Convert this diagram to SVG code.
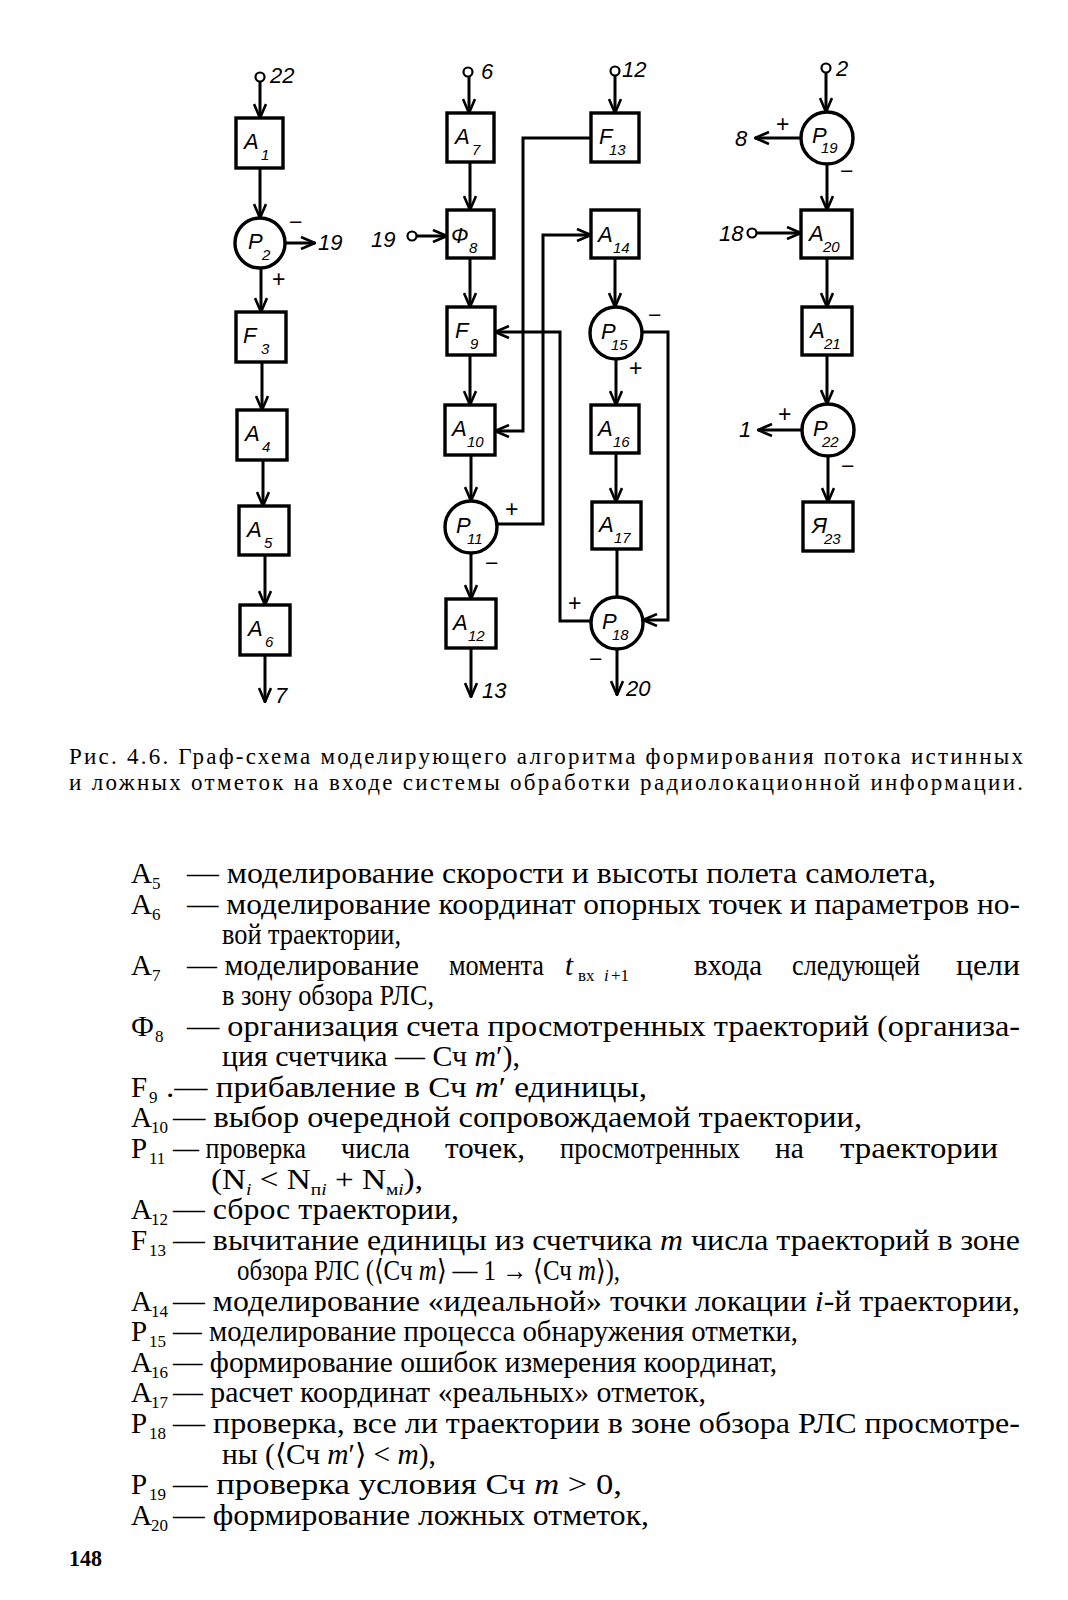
<svg xmlns="http://www.w3.org/2000/svg" width="1068" height="1600" viewBox="0 0 1068 1600">
<style>
.bx{fill:#fff;stroke:#000;stroke-width:3.4}
.c{fill:none;stroke:#000;stroke-width:3}
.a{fill:none;stroke:#000;stroke-width:3;marker-end:url(#ah)}
.t{fill:#fff;stroke:#000;stroke-width:2.2}
.n{font-family:"Liberation Sans","DejaVu Sans",sans-serif;font-style:italic;font-size:22px;fill:#000}
.s{font-family:"Liberation Sans","DejaVu Sans",sans-serif;font-style:italic;font-size:15px;fill:#000}
.l{font-family:"Liberation Sans","DejaVu Sans",sans-serif;font-style:italic;font-size:22px;fill:#000}
.pm{font-family:"Liberation Sans","DejaVu Sans",sans-serif;font-size:23px;fill:#000}
.cap{font-family:"Liberation Serif",serif;font-size:23px;fill:#000}
.b{font-family:"Liberation Serif",serif;font-size:29px;fill:#000}
.bs{font-family:"Liberation Serif",serif;font-size:17px;fill:#000}
.i{font-style:italic}
</style>
<defs>
<marker id="ah" viewBox="0 0 16 14" refX="15" refY="7" markerWidth="16" markerHeight="14" markerUnits="userSpaceOnUse" orient="auto">
<path d="M1,1 L15,7 L1,13" fill="none" stroke="#000" stroke-width="2.6"/>
</marker>
</defs>

<g id="connectors">
<circle class="t" cx="260" cy="77" r="4.5"/>
<line class="a" x1="260" y1="81.5" x2="260" y2="118"/>
<line class="a" x1="260" y1="168" x2="260" y2="218"/>
<line class="a" x1="285" y1="243" x2="315" y2="243"/>
<line class="a" x1="261" y1="268" x2="261" y2="312"/>
<line class="a" x1="262" y1="362" x2="262" y2="410"/>
<line class="a" x1="263" y1="460" x2="263" y2="506"/>
<line class="a" x1="265" y1="555" x2="265" y2="605"/>
<line class="a" x1="265" y1="655" x2="265" y2="702"/>
<circle class="t" cx="468" cy="72" r="4.5"/>
<line class="a" x1="469" y1="76.5" x2="469" y2="113"/>
<line class="a" x1="470" y1="162" x2="470" y2="210"/>
<circle class="t" cx="412" cy="236" r="4.5"/>
<line class="a" x1="416.5" y1="236" x2="447" y2="236"/>
<line class="a" x1="470" y1="258" x2="470" y2="307"/>
<line class="a" x1="470" y1="355" x2="470" y2="405"/>
<line class="a" x1="471" y1="455" x2="471" y2="501"/>
<line class="a" x1="471" y1="553" x2="471" y2="599"/>
<line class="a" x1="471" y1="648" x2="471" y2="697"/>
<polyline class="a" points="497,524 543,524 543,235 591,235"/>
<polyline class="a" points="591,138 523,138 523,431 495,431"/>
<polyline class="a" points="591,621 560,621 560,332 495,332"/>
<circle class="t" cx="615" cy="71" r="4.5"/>
<line class="a" x1="615" y1="75.5" x2="615" y2="113"/>
<line class="a" x1="615" y1="258" x2="615" y2="307"/>
<polyline class="a" points="642,332 668,332 668,620 643,620"/>
<line class="a" x1="616" y1="359" x2="616" y2="405"/>
<line class="a" x1="616" y1="453" x2="616" y2="502"/>
<line class="c" x1="617" y1="549" x2="617" y2="597"/>
<line class="a" x1="617" y1="649" x2="617" y2="695"/>
<circle class="t" cx="826" cy="68" r="4.5"/>
<line class="a" x1="826" y1="72.5" x2="826" y2="112"/>
<line class="a" x1="801" y1="138" x2="755" y2="138"/>
<line class="a" x1="827" y1="164" x2="827" y2="210"/>
<circle class="t" cx="752" cy="233" r="4.5"/>
<line class="a" x1="756.5" y1="233" x2="801" y2="233"/>
<line class="a" x1="827" y1="258" x2="827" y2="307"/>
<line class="a" x1="827" y1="355" x2="827" y2="404"/>
<line class="a" x1="802" y1="430" x2="758" y2="430"/>
<line class="a" x1="828" y1="456" x2="828" y2="502"/>

<text class="l" x="270" y="83">22</text>
<text class="l" x="318" y="250">19</text>
<text class="pm" x="289" y="230">−</text>
<text class="pm" x="272" y="287">+</text>
<text class="l" x="275" y="703">7</text>
<text class="l" x="481" y="79">6</text>
<text class="l" x="371" y="247">19</text>
<text class="l" x="622" y="77">12</text>
<text class="pm" x="505" y="517">+</text>
<text class="pm" x="485" y="571">−</text>
<text class="l" x="482" y="698">13</text>
<text class="pm" x="648" y="323">−</text>
<text class="pm" x="629" y="376">+</text>
<text class="pm" x="568" y="611">+</text>
<text class="pm" x="589" y="667">−</text>
<text class="l" x="626" y="696">20</text>
<text class="l" x="836" y="76">2</text>
<text class="l" x="735" y="146">8</text>
<text class="pm" x="776" y="132">+</text>
<text class="pm" x="840" y="179">−</text>
<text class="l" x="719" y="241">18</text>
<text class="l" x="739" y="437">1</text>
<text class="pm" x="778" y="422">+</text>
<text class="pm" x="841" y="474">−</text>
</g>

<g id="A1"><rect class="bx" x="236" y="118" width="47" height="50"/><text class="n" x="244" y="149">А</text><text class="s" x="261" y="160">1</text></g>
<g id="P2"><circle class="bx" cx="260" cy="243" r="25"/><text class="n" x="248" y="249">Р</text><text class="s" x="262" y="260">2</text></g>
<g id="F3"><rect class="bx" x="236" y="312" width="50" height="50"/><text class="n" x="243" y="343">F</text><text class="s" x="261" y="354">3</text></g>
<g id="A4"><rect class="bx" x="237" y="410" width="50" height="50"/><text class="n" x="245" y="441">А</text><text class="s" x="262" y="452">4</text></g>
<g id="A5"><rect class="bx" x="239" y="506" width="50" height="49"/><text class="n" x="247" y="537">А</text><text class="s" x="264" y="548">5</text></g>
<g id="A6"><rect class="bx" x="240" y="605" width="50" height="50"/><text class="n" x="248" y="636">А</text><text class="s" x="265" y="647">6</text></g>

<g id="A7"><rect class="bx" x="447" y="113" width="47" height="49"/><text class="n" x="455" y="144">А</text><text class="s" x="472" y="155">7</text></g>
<g id="F8"><rect class="bx" x="447" y="210" width="47" height="48"/><text class="n" x="451" y="243">Ф</text><text class="s" x="469" y="253">8</text></g>
<g id="F9"><rect class="bx" x="447" y="307" width="48" height="48"/><text class="n" x="455" y="338">F</text><text class="s" x="470" y="349">9</text></g>
<g id="A10"><rect class="bx" x="445" y="405" width="50" height="50"/><text class="n" x="452" y="436">А</text><text class="s" x="467" y="447">10</text></g>
<g id="P11"><circle class="bx" cx="471" cy="527" r="26"/><text class="n" x="456" y="533">Р</text><text class="s" x="467" y="544">11</text></g>
<g id="A12"><rect class="bx" x="446" y="599" width="50" height="49"/><text class="n" x="453" y="630">А</text><text class="s" x="468" y="641">12</text></g>

<g id="F13"><rect class="bx" x="591" y="113" width="48" height="49"/><text class="n" x="599" y="144">F</text><text class="s" x="609" y="155">13</text></g>
<g id="A14"><rect class="bx" x="591" y="210" width="48" height="48"/><text class="n" x="598" y="242">А</text><text class="s" x="613" y="253">14</text></g>
<g id="P15"><circle class="bx" cx="616" cy="333" r="26"/><text class="n" x="601" y="339">Р</text><text class="s" x="611" y="350">15</text></g>
<g id="A16"><rect class="bx" x="591" y="405" width="48" height="48"/><text class="n" x="598" y="436">А</text><text class="s" x="613" y="447">16</text></g>
<g id="A17"><rect class="bx" x="592" y="502" width="49" height="47"/><text class="n" x="599" y="532">А</text><text class="s" x="614" y="543">17</text></g>
<g id="P18"><circle class="bx" cx="617" cy="623" r="26"/><text class="n" x="602" y="629">Р</text><text class="s" x="612" y="640">18</text></g>

<g id="P19"><circle class="bx" cx="827" cy="138" r="26"/><text class="n" x="812" y="143">Р</text><text class="s" x="821" y="153">19</text></g>
<g id="A20"><rect class="bx" x="801" y="210" width="51" height="48"/><text class="n" x="809" y="241">А</text><text class="s" x="823" y="252">20</text></g>
<g id="A21"><rect class="bx" x="802" y="307" width="50" height="48"/><text class="n" x="810" y="338">А</text><text class="s" x="824" y="349">21</text></g>
<g id="P22"><circle class="bx" cx="828" cy="430" r="26"/><text class="n" x="813" y="436">Р</text><text class="s" x="822" y="447">22</text></g>
<g id="Ya23"><rect class="bx" x="803" y="502" width="50" height="49"/><text class="n" x="812" y="533">Я</text><text class="s" x="824" y="544">23</text></g>

<g id="caption">
<text class="cap" x="69" y="764" textLength="954" lengthAdjust="spacing">Рис. 4.6. Граф-схема моделирующего алгоритма формирования потока истинных</text>
<text class="cap" x="69" y="790" textLength="954" lengthAdjust="spacing">и ложных отметок на входе системы обработки радиолокационной информации.</text>
</g>

<g id="legend">
<text class="b" x="131" y="883">А</text><text class="bs" x="152" y="889">5</text>
<text class="b" x="187" y="883" textLength="749" lengthAdjust="spacingAndGlyphs">— моделирование скорости и высоты полета самолета,</text>

<text class="b" x="131" y="913.6">А</text><text class="bs" x="152" y="919.6">6</text>
<text class="b" x="187" y="913.6" textLength="833" lengthAdjust="spacingAndGlyphs">— моделирование координат опорных точек и параметров но-</text>
<text class="b" x="222" y="944.1" textLength="179" lengthAdjust="spacingAndGlyphs">вой траектории,</text>

<text class="b" x="131" y="974.7">А</text><text class="bs" x="152" y="980.7">7</text>
<text class="b" x="187" y="974.7" textLength="232" lengthAdjust="spacingAndGlyphs">— моделирование</text>
<text class="b" x="449" y="974.7" textLength="95" lengthAdjust="spacingAndGlyphs">момента</text>
<text class="b i" x="565" y="974.7">t</text><text class="bs" x="578" y="981">вх</text><text class="bs i" x="604" y="981">i</text><text class="bs" x="611" y="981">+1</text>
<text class="b" x="694" y="974.7" textLength="68" lengthAdjust="spacingAndGlyphs">входа</text>
<text class="b" x="792" y="974.7" textLength="128" lengthAdjust="spacingAndGlyphs">следующей</text>
<text class="b" x="956" y="974.7" textLength="64" lengthAdjust="spacingAndGlyphs">цели</text>
<text class="b" x="222" y="1005.2" textLength="212" lengthAdjust="spacingAndGlyphs">в зону обзора РЛС,</text>

<text class="b" x="131" y="1035.8">Ф</text><text class="bs" x="155" y="1041.8">8</text>
<text class="b" x="187" y="1035.8" textLength="833" lengthAdjust="spacingAndGlyphs">— организация счета просмотренных траекторий (организа-</text>
<text class="b" x="222" y="1066.3" textLength="298" lengthAdjust="spacingAndGlyphs">ция счетчика — Сч <tspan class="i">m</tspan>′),</text>

<text class="b" x="131" y="1096.9">F</text><text class="bs" x="149" y="1102.9">9</text>
<text class="b" x="166" y="1096.9" textLength="481" lengthAdjust="spacingAndGlyphs">.— прибавление в Сч <tspan class="i">m</tspan>′ единицы,</text>

<text class="b" x="131" y="1127.4">А</text><text class="bs" x="151" y="1133.4">10</text>
<text class="b" x="173" y="1127.4" textLength="689" lengthAdjust="spacingAndGlyphs">— выбор очередной сопровождаемой траектории,</text>

<text class="b" x="131" y="1158">Р</text><text class="bs" x="149" y="1164">11</text>
<text class="b" x="173" y="1158" textLength="133" lengthAdjust="spacingAndGlyphs">— проверка</text>
<text class="b" x="341" y="1158" textLength="69" lengthAdjust="spacingAndGlyphs">числа</text>
<text class="b" x="445" y="1158" textLength="80" lengthAdjust="spacingAndGlyphs">точек,</text>
<text class="b" x="560" y="1158" textLength="180" lengthAdjust="spacingAndGlyphs">просмотренных</text>
<text class="b" x="775" y="1158" textLength="29" lengthAdjust="spacingAndGlyphs">на</text>
<text class="b" x="840" y="1158" textLength="158" lengthAdjust="spacingAndGlyphs">траектории</text>
<text class="b" x="211" y="1188.5" textLength="212" lengthAdjust="spacingAndGlyphs">(N<tspan class="bs i" dy="6">i</tspan><tspan dy="-6"> &lt; N</tspan><tspan class="bs" dy="6">п<tspan class="i">i</tspan></tspan><tspan dy="-6"> + N</tspan><tspan class="bs" dy="6">м<tspan class="i">i</tspan></tspan><tspan dy="-6">),</tspan></text>

<text class="b" x="131" y="1219.1">А</text><text class="bs" x="151" y="1225.1">12</text>
<text class="b" x="173" y="1219.1" textLength="286" lengthAdjust="spacingAndGlyphs">— сброс траектории,</text>

<text class="b" x="131" y="1249.6">F</text><text class="bs" x="149" y="1255.6">13</text>
<text class="b" x="173" y="1249.6" textLength="847" lengthAdjust="spacingAndGlyphs">— вычитание единицы из счетчика <tspan class="i">m</tspan> числа траекторий в зоне</text>
<text class="b" x="237" y="1280.2" textLength="383" lengthAdjust="spacingAndGlyphs">обзора РЛС (⟨Сч <tspan class="i">m</tspan>⟩ — 1 → ⟨Сч <tspan class="i">m</tspan>⟩),</text>

<text class="b" x="131" y="1310.7">А</text><text class="bs" x="151" y="1316.7">14</text>
<text class="b" x="173" y="1310.7" textLength="847" lengthAdjust="spacingAndGlyphs">— моделирование «идеальной» точки локации <tspan class="i">i</tspan>-й траектории,</text>

<text class="b" x="131" y="1341.3">Р</text><text class="bs" x="149" y="1347.3">15</text>
<text class="b" x="173" y="1341.3" textLength="625" lengthAdjust="spacingAndGlyphs">— моделирование процесса обнаружения отметки,</text>

<text class="b" x="131" y="1371.8">А</text><text class="bs" x="151" y="1377.8">16</text>
<text class="b" x="173" y="1371.8" textLength="604" lengthAdjust="spacingAndGlyphs">— формирование ошибок измерения координат,</text>

<text class="b" x="131" y="1402.4">А</text><text class="bs" x="151" y="1408.4">17</text>
<text class="b" x="173" y="1402.4" textLength="533" lengthAdjust="spacingAndGlyphs">— расчет координат «реальных» отметок,</text>

<text class="b" x="131" y="1432.9">Р</text><text class="bs" x="149" y="1438.9">18</text>
<text class="b" x="173" y="1432.9" textLength="847" lengthAdjust="spacingAndGlyphs">— проверка, все ли траектории в зоне обзора РЛС просмотре-</text>
<text class="b" x="222" y="1463.5" textLength="214" lengthAdjust="spacingAndGlyphs">ны (⟨Сч <tspan class="i">m</tspan>′⟩ &lt; <tspan class="i">m</tspan>),</text>

<text class="b" x="131" y="1494">Р</text><text class="bs" x="149" y="1500">19</text>
<text class="b" x="173" y="1494" textLength="449" lengthAdjust="spacingAndGlyphs">— проверка условия Сч <tspan class="i">m</tspan> &gt; 0,</text>

<text class="b" x="131" y="1524.6">А</text><text class="bs" x="151" y="1530.6">20</text>
<text class="b" x="173" y="1524.6" textLength="476" lengthAdjust="spacingAndGlyphs">— формирование ложных отметок,</text>

<text x="69" y="1566" style="font-family:'Liberation Serif',serif;font-size:23px;font-weight:bold" textLength="33" lengthAdjust="spacingAndGlyphs">148</text>
</g>
</svg>
